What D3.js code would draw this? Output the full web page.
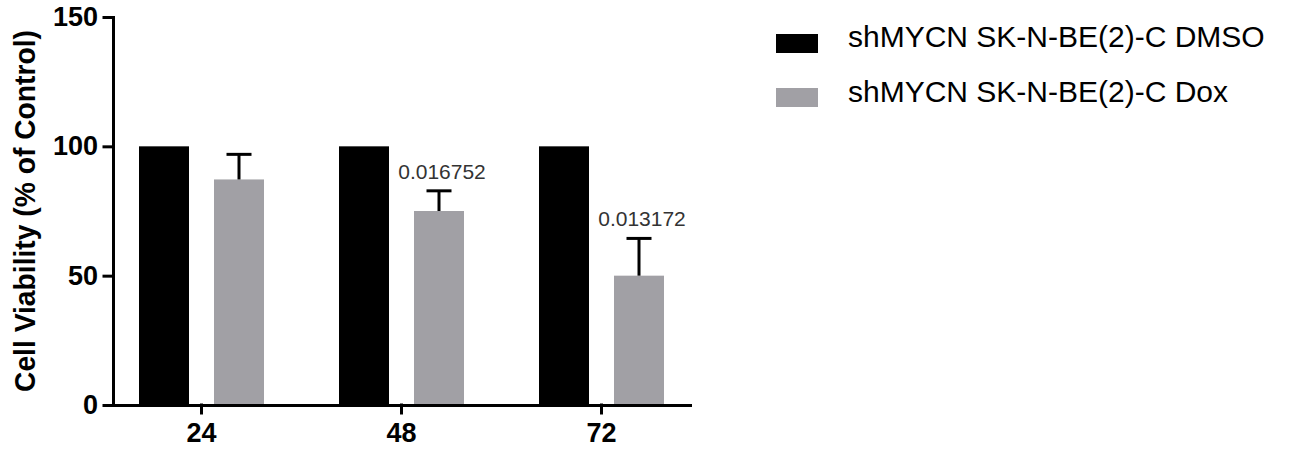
<!DOCTYPE html>
<html>
<head>
<meta charset="utf-8">
<script src="https://cdn.jsdelivr.net/npm/d3@7"></script>
<style>
  html, body { margin: 0; padding: 0; background: #fff; }
  svg { display: block; font-family: "Liberation Sans", Arial, Helvetica, sans-serif; }
</style>
</head>
<body>
<svg id="chart" width="1296" height="449"></svg>
<script>
const categories = ["24", "48", "72"];
const seriesNames = ["shMYCN SK-N-BE(2)-C DMSO", "shMYCN SK-N-BE(2)-C Dox"];
const dmsoValues = [100, 100, 100];
const doxValues = [87.2, 75.0, 50.0];
const doxErrors = [9.7, 7.8, 14.4];
const pValueLabels = ["", "0.016752", "0.013172"];
const yTicks = [0, 50, 100, 150];
const colors = ["#000000", "#a1a0a5"];

const svg = d3.select("#chart");

const y = d3.scaleLinear().domain([0, 150]).range([405, 17]);
const x0 = d3.scaleBand().domain(categories).range([113, 690])
  .paddingInner(0.375).paddingOuter(0.13);
const x1 = d3.scaleBand().domain([0, 1]).range([0, x0.bandwidth()])
  .paddingInner(1 / 3).paddingOuter(0);

const rows = categories.map((c, i) => ({
  cat: c,
  values: [dmsoValues[i], doxValues[i]],
  err: [0, doxErrors[i]],
  label: pValueLabels[i]
}));

// bars
const g = svg.append("g");
rows.forEach(r => {
  r.values.forEach((v, s) => {
    g.append("rect")
      .attr("x", x0(r.cat) + x1(s))
      .attr("y", y(v))
      .attr("width", x1.bandwidth())
      .attr("height", y(0) - y(v))
      .attr("fill", colors[s]);
    if (r.err[s] > 0) {
      const cx = x0(r.cat) + x1(s) + x1.bandwidth() / 2;
      const top = y(v + r.err[s]);
      g.append("line")
        .attr("x1", cx).attr("x2", cx)
        .attr("y1", y(v)).attr("y2", top)
        .attr("stroke", "#000").attr("stroke-width", 3);
      g.append("line")
        .attr("x1", cx - x1.bandwidth() / 4).attr("x2", cx + x1.bandwidth() / 4)
        .attr("y1", top).attr("y2", top)
        .attr("stroke", "#000").attr("stroke-width", 3);
      if (r.label) {
        g.append("text")
          .attr("x", cx + 3)
          .attr("y", top - 12)
          .attr("text-anchor", "middle")
          .attr("font-size", 21)
          .attr("fill", "#333")
          .text(r.label);
      }
    }
  });
});

// axes
const yAxis = svg.append("g")
  .attr("transform", "translate(113,0)")
  .call(d3.axisLeft(y).tickValues(yTicks).tickSize(9).tickPadding(6).tickSizeOuter(0));
const xAxis = svg.append("g")
  .attr("transform", "translate(0,405)")
  .call(d3.axisBottom(x0).tickSize(8).tickPadding(10).tickSizeOuter(0));

[yAxis, xAxis].forEach(a => {
  a.selectAll("path, line").attr("stroke", "#000").attr("stroke-width", 3)
    .attr("stroke-linecap", "square");
  a.selectAll("text").attr("font-size", 27).attr("font-weight", "bold")
    .attr("fill", "#000").attr("font-family", "'Liberation Sans', Arial, sans-serif");
});
xAxis.selectAll("text").attr("dy", "0.71em");

// y-axis title
svg.append("text")
  .attr("transform", "translate(35,211) rotate(-90)")
  .attr("text-anchor", "middle")
  .attr("font-size", 30)
  .attr("font-weight", "bold")
  .attr("fill", "#000")
  .attr("textLength", 362)
  .attr("lengthAdjust", "spacingAndGlyphs")
  .text("Cell Viability (% of Control)");

// legend
const legend = svg.append("g");
seriesNames.forEach((name, i) => {
  legend.append("rect")
    .attr("x", 776).attr("y", 34 + i * 54)
    .attr("width", 42).attr("height", 19)
    .attr("fill", colors[i]);
  legend.append("text")
    .attr("x", 848).attr("y", 47 + i * 55)
    .attr("font-size", 30)
    .attr("fill", "#000")
    .text(name);
});
</script>
</body>
</html>
